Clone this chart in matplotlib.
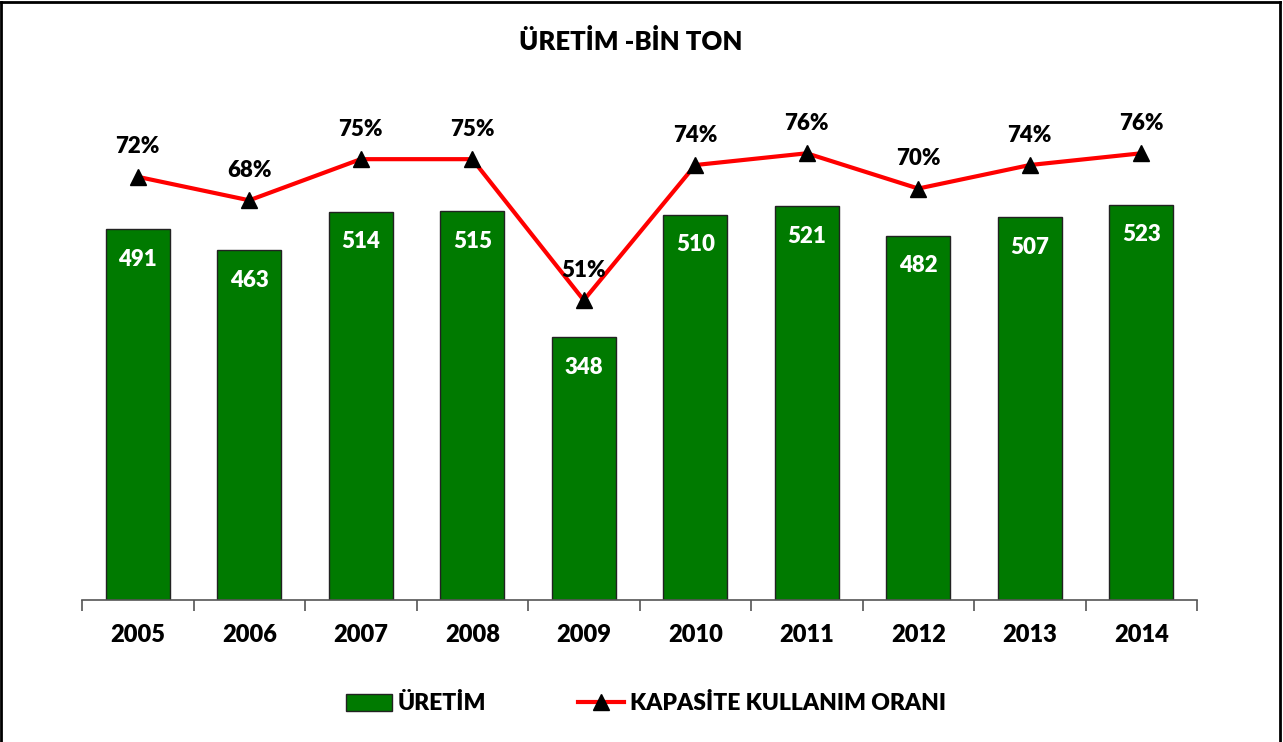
import matplotlib
matplotlib.use("Agg")
import matplotlib.pyplot as plt
from matplotlib.lines import Line2D
from matplotlib.patches import Patch

years = ["2005", "2006", "2007", "2008", "2009", "2010", "2011", "2012", "2013", "2014"]
uretim = [491, 463, 514, 515, 348, 510, 521, 482, 507, 523]
kko = [72, 68, 75, 75, 51, 74, 76, 70, 74, 76]

FONT = ["Lato", "DejaVu Sans"]
WEIGHT = "heavy"
plt.rcParams["font.family"] = FONT
plt.rcParams["font.weight"] = WEIGHT

W, H = 1283, 742
fig = plt.figure(figsize=(W / 100, H / 100), dpi=100)
ax = fig.add_axes([82 / W, (H - 600) / H, (1197 - 82) / W, (600 - 71) / H])

x = list(range(len(years)))
ax.bar(x, uretim, width=0.57, color="#007A00", edgecolor="#222222", linewidth=1.0, zorder=2)
ax.set_xlim(-0.5, len(years) - 0.5)
ax.set_ylim(0, 700)
for xi, v in zip(x, uretim):
    ax.text(xi, v - 40, f"{v}", ha="center", va="center", color="white",
            fontsize=16, fontweight=WEIGHT)

ax.set_yticks([])
for s in ["left", "right", "top"]:
    ax.spines[s].set_visible(False)
ax.spines["bottom"].set_color("#555555")
ax.spines["bottom"].set_linewidth(1.2)
ax.set_xticks([i + 0.5 for i in range(-1, len(years))], minor=False)
ax.set_xticklabels([])
ax.tick_params(axis="x", which="major", direction="out", length=8, color="#555555", width=1.2)
ax.set_xticks(x, minor=True)
ax.set_xticklabels(years, minor=True, fontsize=17, fontweight=WEIGHT)
ax.tick_params(axis="x", which="minor", length=0, pad=17)

ax2 = ax.twinx()
ax2.set_ylim(0, 90)
ax2.plot(x, kko, color="#FF0000", linewidth=3, marker="^", markersize=11,
         markerfacecolor="black", markeredgecolor="black", zorder=3)
for xi, v in zip(x, kko):
    ax2.text(xi, v + 5.1, f"{v}%", ha="center", va="center", color="black",
             fontsize=16, fontweight=WEIGHT)
ax2.set_yticks([])
for s in ["left", "right", "top", "bottom"]:
    ax2.spines[s].set_visible(False)

fig.text(631 / W, 1 - 42 / H, "ÜRETİM -BİN TON", ha="center", va="center",
         fontsize=18.5, fontweight=WEIGHT)

handles = [Patch(facecolor="#007A00", edgecolor="#222222", linewidth=1.0),
           Line2D([0], [0], color="#FF0000", linewidth=3, marker="^", markersize=11,
                  markerfacecolor="black", markeredgecolor="black")]
fig.legend(handles, ["ÜRETİM", "KAPASİTE KULLANIM ORANI"], loc="center",
           bbox_to_anchor=(646 / W, 1 - 704 / H), ncol=2, frameon=False,
           prop={"family": FONT, "weight": WEIGHT, "size": 16.5},
           columnspacing=4.0, handlelength=2.0, handletextpad=0.25)

# outer frame
lw = 2
fig.add_artist(Line2D([0.001, 0.001], [0, 0.997], color="black", linewidth=lw, transform=fig.transFigure))
fig.add_artist(Line2D([0.001, 0.998], [0.997, 0.997], color="black", linewidth=lw, transform=fig.transFigure))
fig.add_artist(Line2D([0.998, 0.998], [0, 0.997], color="black", linewidth=lw, transform=fig.transFigure))

fig.savefig("out.png", dpi=100)
